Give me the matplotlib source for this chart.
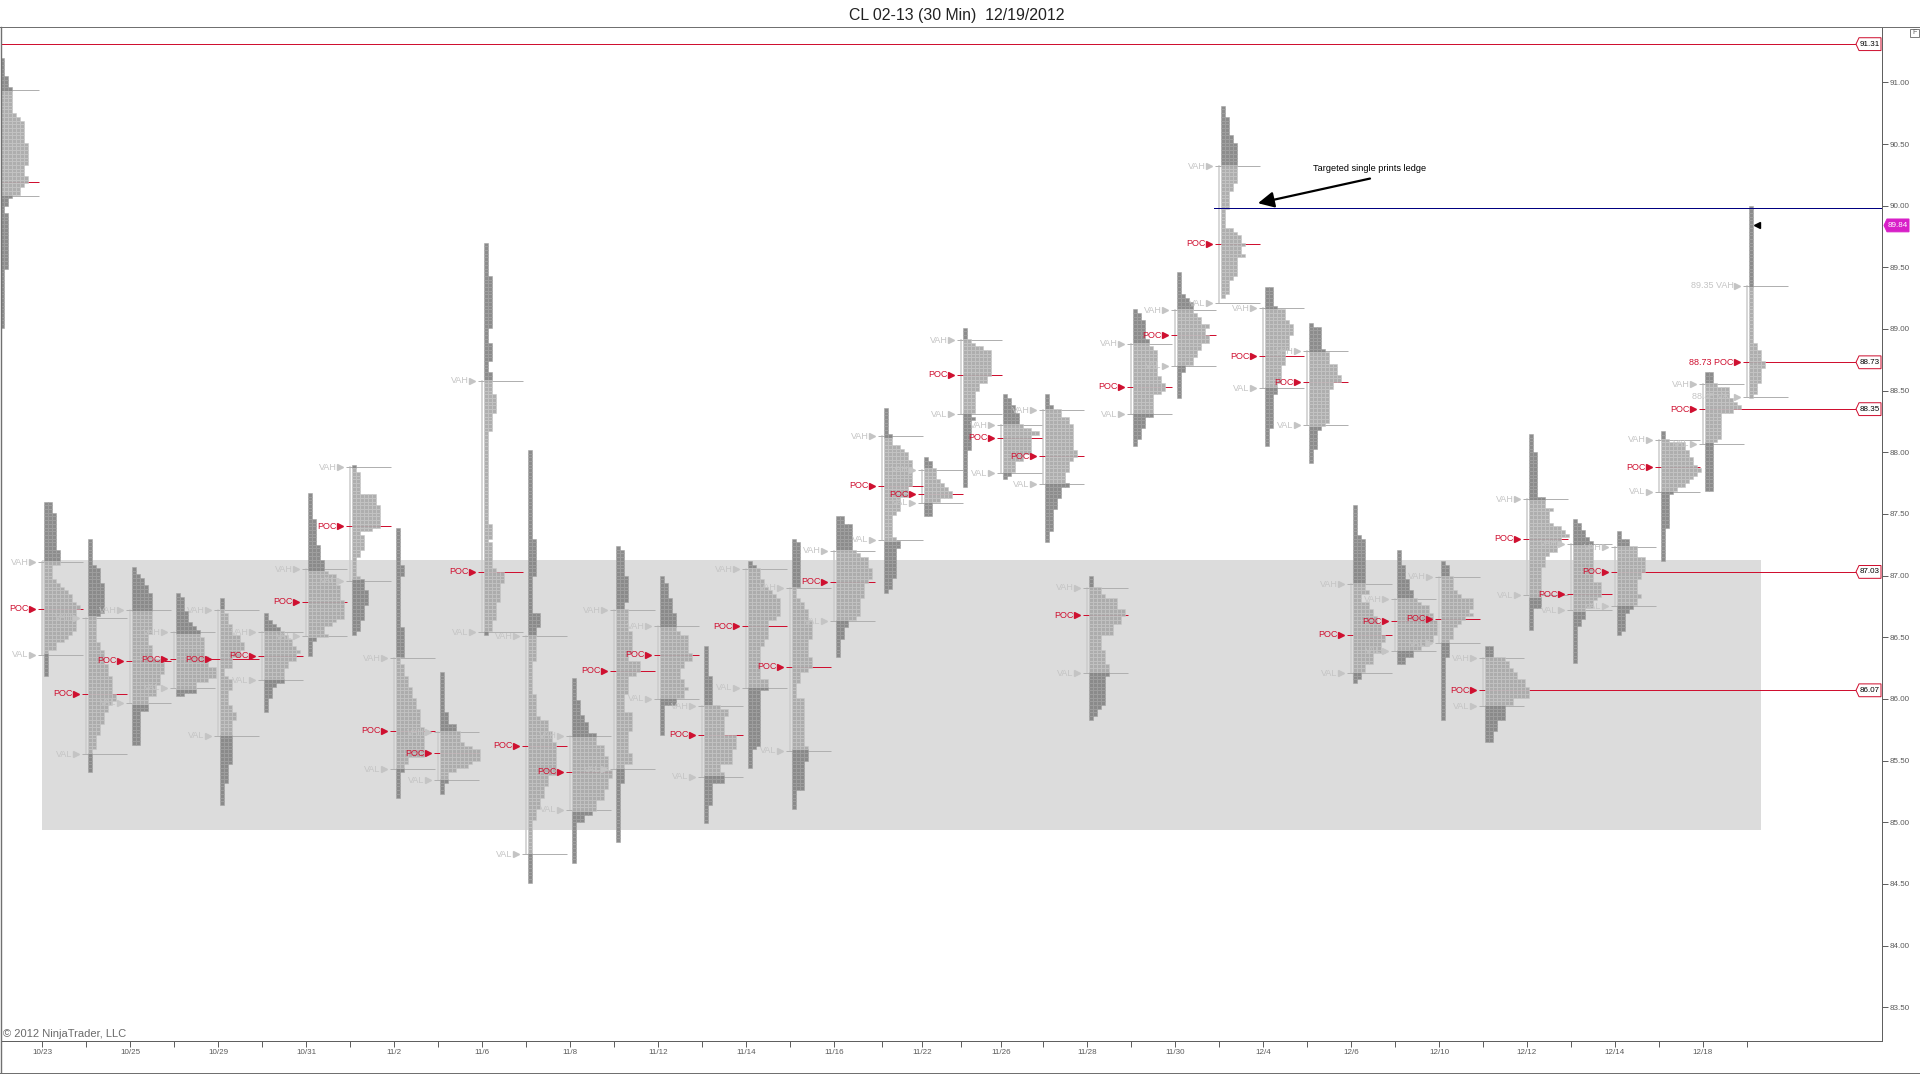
import matplotlib
matplotlib.use('Agg')
import matplotlib.pyplot as plt
from matplotlib.lines import Line2D
from matplotlib.patches import Polygon, Rectangle

plt.rcParams['font.family'] = ['Liberation Sans', 'DejaVu Sans']

#sessions, x is one unit per chart pixel so the tpo cells stay square
session_x = [0, 44, 88, 132, 176, 220, 264, 308, 352, 396, 440, 484, 528, 572, 616, 660, 704, 748, 792, 836,
             884, 924, 963, 1003, 1045, 1089, 1133, 1177, 1221, 1265, 1309, 1353, 1397, 1441, 1485, 1529,
             1573, 1617, 1661, 1705, 1749]

highs = [91.20, 87.60, 87.30, 87.07, 86.86, 86.82, 86.70, 87.67, 87.90, 87.39, 86.22, 89.70, 88.02, 86.17, 87.24,
         87.00, 86.43, 87.12, 87.30, 87.48, 88.36, 87.96, 89.01, 88.47, 88.47, 87.00, 89.16, 89.46, 90.81,
         89.34, 89.05, 87.57, 87.21, 87.12, 86.43, 88.15, 87.46, 87.36, 88.17, 88.65, 90.00]
vahs = [90.94, 87.11, 86.66, 86.72, 86.54, 86.72, 86.54, 87.05, 87.88, 86.33, 85.73, 88.58, 86.51, 85.70, 86.72,
        86.59, 85.94, 87.05, 86.90, 87.20, 88.13, 87.86, 88.91, 88.22, 88.34, 86.90, 88.88, 89.15, 90.32,
        89.17, 88.82, 86.93, 86.81, 86.99, 86.33, 87.62, 87.26, 87.23, 88.10, 88.55, 89.35]
pocs = [90.19, 86.73, 86.04, 86.31, 86.32, 86.32, 86.35, 86.79, 87.40, 85.74, 85.56, 87.03, 85.62, 85.41, 86.23,
        86.36, 85.71, 86.59, 86.26, 86.95, 87.73, 87.66, 88.63, 88.12, 87.97, 86.68, 88.53, 88.95, 89.69,
        88.78, 88.57, 86.52, 86.63, 86.65, 86.07, 87.30, 86.85, 87.03, 87.88, 88.35, 88.73]
vals = [90.08, 86.36, 85.55, 85.97, 86.09, 85.70, 86.15, 86.51, 86.96, 85.43, 85.34, 86.54, 84.74, 85.10, 85.43,
        86.00, 85.37, 86.09, 85.58, 86.63, 87.29, 87.59, 88.31, 87.83, 87.74, 86.21, 88.31, 88.70, 89.21,
        88.52, 88.22, 86.21, 86.39, 86.45, 85.94, 86.84, 86.72, 86.75, 87.68, 88.07, 88.45]

#(rows, cells) from the high downwards, one row is row_h dollars
profiles = [
    [(5,1),(3,2),(7,3),(1,4),(1,5),(6,6),(6,7),(3,6),(2,7),(1,6),(2,5),(1,3),(2,2),(2,1),(15,2),(16,1)],
    [(3,2),(10,3),(4,4),(4,2),(1,3),(1,4),(1,5),(1,6),(2,7),(1,8),(1,9),(6,8),(1,7),(1,6),(1,5),(2,3),(7,1)],
    [(7,1),(1,2),(4,3),(8,4),(1,3),(7,2),(2,3),(4,4),(3,5),(5,6),(2,7),(1,6),(2,5),(3,4),(3,3),(4,2),(6,1)],
    [(2,1),(1,2),(2,3),(2,4),(5,5),(6,5),(3,4),(4,5),(4,8),(3,7),(3,6),(4,4),(9,2)],
    [(1,1),(4,2),(3,3),(1,4),(1,5),(2,6),(5,7),(3,8),(3,10),(1,8),(3,5),(1,2)],
    [(4,1),(3,2),(3,3),(2,5),(2,6),(2,5),(3,3),(2,1),(1,2),(3,3),(4,2),(2,3),(2,4),(12,3),(5,2),(6,1)],
    [(2,1),(1,2),(1,3),(1,4),(1,5),(1,6),(2,7),(1,8),(1,9),(2,8),(2,6),(4,5),(1,3),(3,2),(4,1)],
    [(7,1),(7,2),(4,3),(3,4),(1,5),(3,7),(4,8),(5,9),(1,7),(1,6),(2,4),(1,5),(1,2),(4,1)],
    [(2,1),(6,2),(3,6),(6,7),(1,5),(1,2),(4,3),(2,2),(5,1),(1,2),(3,3),(4,4),(4,3),(3,2),(1,1)],
    [(10,1),(3,2),(14,1),(8,2),(2,1),(3,2),(3,3),(3,4),(3,5),(5,6),(8,7),(2,3),(2,2),(7,1)],
    [(11,1),(3,2),(2,4),(3,5),(1,6),(1,8),(3,10),(1,8),(1,7),(1,4),(3,2),(3,1)],
    [(9,1),(14,2),(4,1),(5,2),(3,1),(6,2),(5,3),(5,2),(25,1),(4,2),(1,1),(7,2),(1,3),(3,5),(5,4),(5,3),(3,2),(1,1)],
    [(24,1),(10,2),(10,1),(4,3),(9,2),(9,1),(6,2),(1,3),(3,5),(3,6),(9,7),(3,5),(3,4),(3,3),(3,2),(17,1)],
    [(6,1),(4,2),(2,3),(3,4),(3,6),(3,8),(4,9),(2,10),(3,9),(3,8),(3,6),(1,5),(2,3),(11,1)],
    [(1,1),(7,2),(7,3),(2,2),(6,3),(6,4),(2,3),(3,6),(1,5),(5,3),(5,2),(5,4),(6,3),(3,4),(5,2),(16,1)],
    [(2,1),(4,2),(4,3),(5,4),(1,5),(5,7),(2,8),(2,6),(3,5),(2,6),(1,7),(2,6),(2,4),(8,1)],
    [(8,1),(8,2),(1,4),(2,6),(5,5),(4,8),(4,7),(2,4),(3,5),(6,2),(5,1)],
    [(1,1),(1,2),(3,3),(2,4),(1,5),(1,6),(1,7),(5,8),(1,7),(5,5),(2,4),(9,3),(3,5),(15,3),(1,2),(5,1)],
    [(1,1),(12,2),(3,1),(1,2),(2,3),(3,4),(5,5),(5,4),(3,5),(1,4),(3,2),(4,1),(13,3),(4,4),(8,3),(5,1)],
    [(2,2),(7,4),(1,5),(1,6),(3,8),(3,9),(1,8),(4,7),(5,6),(1,5),(2,3),(3,2),(5,1)],
    [(7,1),(3,2),(1,4),(1,5),(2,6),(7,7),(3,6),(4,4),(1,3),(6,2),(1,3),(2,4),(8,3),(3,2),(1,1)],
    [(1,1),(2,2),(3,3),(1,4),(1,5),(1,6),(2,7),(1,4),(4,2)],
    [(3,1),(1,2),(1,3),(1,5),(7,7),(2,6),(2,4),(6,3),(1,2),(1,3),(8,2),(10,1)],
    [(1,1),(2,2),(2,3),(2,4),(1,4),(1,5),(1,7),(1,9),(5,7),(2,5),(3,3),(1,2),(1,1)],
    [(3,1),(1,2),(2,4),(2,6),(7,7),(2,8),(1,7),(3,6),(3,5),(1,6),(3,4),(3,3),(6,2),(3,1)],
    [(3,1),(2,3),(1,4),(3,7),(2,9),(2,8),(3,6),(4,3),(4,4),(3,5),(8,4),(1,3),(2,2),(1,1)],
    [(1,1),(2,2),(5,3),(2,4),(1,5),(7,6),(2,7),(2,8),(1,7),(6,5),(3,3),(3,2),(2,1)],
    [(6,1),(1,2),(1,3),(3,4),(1,5),(2,6),(1,8),(2,7),(2,8),(2,6),(2,5),(2,4),(2,2),(7,1)],
    [(3,1),(5,2),(2,3),(11,4),(2,3),(5,2),(5,1),(1,3),(1,4),(2,5),(1,6),(2,5),(1,6),(5,4),(1,3),(4,2),(1,1)],
    [(5,2),(1,3),(3,5),(1,6),(3,7),(4,6),(4,5),(5,4),(3,3),(9,2),(5,1)],
    [(1,1),(6,3),(1,4),(3,5),(3,7),(2,8),(2,6),(9,5),(1,4),(1,3),(5,2),(4,1)],
    [(8,1),(1,2),(14,3),(1,4),(2,2),(2,4),(2,5),(2,6),(3,7),(2,8),(2,7),(1,8),(3,5),(2,3),(2,2),(1,1)],
    [(4,1),(4,2),(3,3),(2,4),(1,5),(1,6),(2,8),(2,9),(4,10),(2,9),(1,8),(1,6),(2,4),(2,2)],
    [(1,1),(3,2),(4,3),(1,4),(1,5),(3,8),(1,7),(1,8),(1,6),(1,5),(1,4),(3,3),(5,2),(17,1)],
    [(3,2),(1,5),(2,6),(1,7),(2,8),(2,10),(3,11),(2,7),(4,5),(3,3),(3,2)],
    [(5,1),(12,2),(3,4),(1,6),(3,5),(1,6),(1,8),(1,9),(1,10),(2,8),(2,7),(1,5),(3,4),(11,3),(6,1)],
    [(1,1),(2,2),(2,3),(1,4),(11,5),(4,7),(1,6),(2,5),(3,3),(2,2),(10,1)],
    [(2,1),(2,3),(3,5),(4,7),(2,6),(4,5),(1,6),(2,5),(1,4),(1,3),(5,2),(1,1)],
    [(2,1),(1,2),(2,6),(2,7),(2,8),(1,9),(1,10),(1,9),(1,8),(1,7),(1,6),(1,4),(1,3),(9,2),(9,1)],
    [(3,2),(1,3),(3,6),(1,7),(1,8),(1,9),(1,7),(7,4),(1,3),(13,2)],
    [(37,1),(2,2),(3,3),(2,4),(4,3),(3,2),(1,1)],
]

#the last profile prints its prices in the labels
label_prefix = {40: ('89.35 ', '88.73 ', '88.45 ')}
#poc lines that run on to the price scale
naked_pocs = [34, 37, 39, 40]

tick_x = [42, 86, 130, 174, 218, 262, 306, 350, 394, 438, 482, 526, 570, 614, 658, 702, 746, 790, 834,
          882, 922, 961, 1001, 1043, 1087, 1131, 1175, 1219, 1263, 1307, 1351, 1395, 1439, 1483, 1527,
          1571, 1615, 1659, 1703, 1747]
tick_dates = ['10/23', '', '10/25', '', '10/29', '', '10/31', '', '11/2', '', '11/6', '', '11/8', '', '11/12', '',
              '11/14', '', '11/16', '', '11/22', '', '11/26', '', '11/28', '', '11/30', '', '12/4', '', '12/6', '',
              '12/10', '', '12/12', '', '12/14', '', '12/18', '']
price_ticks = [83.5, 84.0, 84.5, 85.0, 85.5, 86.0, 86.5, 87.0, 87.5, 88.0, 88.5, 89.0, 89.5, 90.0, 90.5, 91.0]

top_line = 91.31
target_line = 89.98
last_price = 89.84
band_low = 84.94
band_high = 87.13

row_h = 0.03
cell_w = 4
dark_cell = '#868686'
light_cell = '#aaaaaa'
label_grey = '#c4c4c4'
poc_red = '#cf1030'
one_px = 0.72

fig = plt.figure(figsize=(19.2, 10.74), dpi=100)
ax = fig.add_axes([1 / 1920, 33 / 1074, 1881 / 1920, 1014 / 1074])
ax.set_xlim(1, 1882)
ax.set_ylim(83.226, 91.449)


def price_tag(price, text, x0, x1, edge, face, txt_col):
    #five sided price marker, point on the left
    h = 0.052
    pts = [(x0, price), (x0 + 3, price + h), (x1, price + h), (x1, price - h), (x0 + 3, price - h)]
    ax.add_patch(Polygon(pts, closed=True, fc=face, ec=edge, lw=one_px, zorder=9, clip_on=False))
    ax.text((x0 + x1) / 2 + 1, price, text, ha='center', va='center', fontsize=5.8, color=txt_col, zorder=10, clip_on=False)


ax.add_patch(Rectangle((42, band_low), 1761 - 42, band_high - band_low, fc='#dcdcdc', ec='none', zorder=0))

#cells
cx = {dark_cell: [], light_cell: []}
cy = {dark_cell: [], light_cell: []}
for i in range(len(profiles)):
    top = highs[i]
    for n, w in profiles[i]:
        for r in range(n):
            bottom = top - row_h
            mid = top - row_h / 2
            col = light_cell if vals[i] < mid < vahs[i] else dark_cell
            for c in range(w):
                cx[col].append(session_x[i] + c * cell_w)
                cy[col].append(bottom)
            top = bottom

for col, edge in ((dark_cell, '#a2a2a2'), (light_cell, '#c8c8c8')):
    ax.bar(cx[col], row_h, width=cell_w, bottom=cy[col], align='edge', color=col, edgecolor=edge, linewidth=0.4, alpha=0.95, zorder=4)

#value area, poc lines and their labels, the cut off first session has no labels
for i in range(len(profiles)):
    left = session_x[i]
    ax.plot([left - 2, left - 2], [vals[i], vahs[i]], color='#cccccc', lw=1.1, zorder=2)
    prefix = label_prefix.get(i, ('', '', ''))
    for price, name, col, pre in ((vahs[i], 'VAH', label_grey, prefix[0]), (pocs[i], 'POC', poc_red, prefix[1]), (vals[i], 'VAL', label_grey, prefix[2])):
        line_col = poc_red if name == 'POC' else '#b0b0b0'
        ax.plot([left - 6, left + 39], [price, price], color=line_col, lw=one_px, zorder=3, solid_capstyle='butt')
        if i == 0:
            continue
        ax.plot([left - 12], [price], marker='>', ms=4.2, mec=col, mfc=col, ls='none', zorder=6)
        ax.text(left - 15.5, price, pre + name, ha='right', va='center', fontsize=6.5, color=col, zorder=6)

for i in naked_pocs:
    ax.plot([session_x[i] + 39, 1856], [pocs[i], pocs[i]], color=poc_red, lw=one_px, zorder=3)
    price_tag(pocs[i], '%.2f' % pocs[i], 1856, 1881, poc_red, 'white', 'black')

ax.plot([1, 1856], [top_line, top_line], color=poc_red, lw=one_px, zorder=3)
price_tag(top_line, '%.2f' % top_line, 1856, 1881, poc_red, 'white', 'black')
ax.plot([1214, 1882], [target_line, target_line], color='#000080', lw=one_px, zorder=5)
price_tag(last_price, '%.2f' % last_price, 1884, 1909, '#d81fc8', '#d81fc8', 'white')
ax.plot([1757], [last_price], marker='<', ms=5, color='black', ls='none', zorder=7)

ax.text(1370, 90.265, 'Targeted single prints ledge', ha='center', va='bottom', fontsize=6.6, color='black')
ax.annotate('', xy=(1258, 90.02), xytext=(1370, 90.22),
            arrowprops=dict(arrowstyle='-|>', color='black', lw=1.6, mutation_scale=24, shrinkA=0, shrinkB=0), zorder=8)

ax.set_title('CL 02-13 (30 Min)  12/19/2012', fontsize=11.4, color='#222222', y=1.0, pad=5, x=956 / 1881)
ax.text(3, 83.285, '© 2012 NinjaTrader, LLC', ha='left', va='center', fontsize=8, color='#6a6a6a')

ax.set_xticks(tick_x)
ax.set_xticklabels(tick_dates)
ax.yaxis.tick_right()
ax.set_yticks(price_ticks)
ax.set_yticklabels(['%.2f' % p for p in price_ticks])
ax.tick_params(axis='both', length=4.3, width=one_px, color='#606060', labelcolor='#5a5a5a', labelsize=5.8, pad=1.5)
for s in ax.spines.values():
    s.set_color('#606060')
    s.set_linewidth(one_px)
ax.spines['top'].set_visible(False)

#window frame around the chart
frame = '#707070'
fig.add_artist(Line2D([0, 1], [1 - 27 / 1074, 1 - 27 / 1074], color=frame, lw=one_px))
fig.add_artist(Line2D([1 / 1920, 1 / 1920], [1 / 1074, 1 - 27 / 1074], color=frame, lw=1))
fig.add_artist(Line2D([0, 1], [1 / 1074, 1 / 1074], color=frame, lw=one_px))
fig.add_artist(Rectangle((1910 / 1920, 1 - 37 / 1074), 9 / 1920, 8 / 1074, transform=fig.transFigure, fc='white', ec='#808080', lw=one_px))
fig.text(1914.5 / 1920, 1 - 33 / 1074, 'F', ha='center', va='center', fontsize=5, color='#606060')

fig.savefig('out.png', dpi=100)
